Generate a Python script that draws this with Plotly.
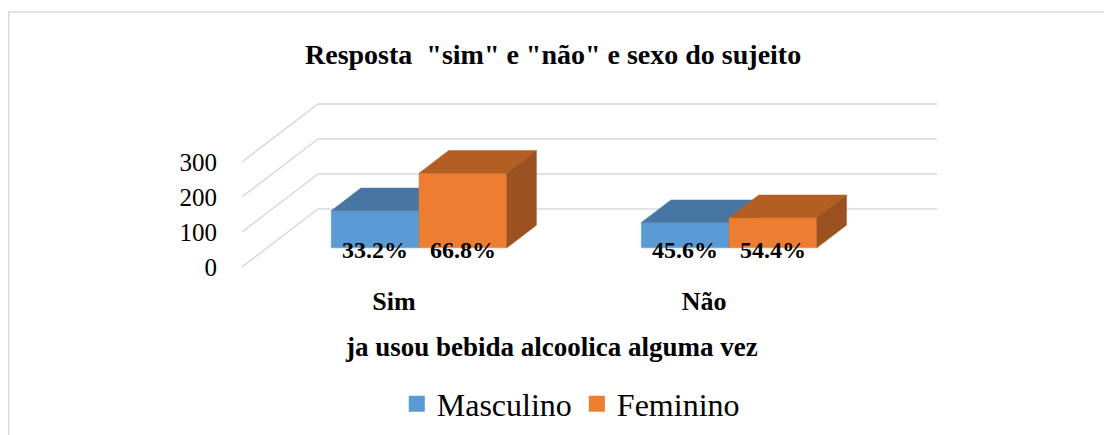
import plotly.graph_objects as go

# dados
categorias = ["Sim", "Não"]
series_nomes = ["Masculino", "Feminino"]
masculino = [106, 72]
feminino = [213, 86]
ticks_y = [0, 100, 200, 300]

titulo = 'Resposta  "sim" e "não" e sexo do sujeito'
titulo_eixo_x = "ja usou bebida alcoolica alguma vez"

# cores: frente, topo, lado
CORES = {
    "Masculino": ("#5B9BD5", "#4676A1", "#3A6590"),
    "Feminino": ("#ED7D31", "#B35E23", "#9C5120"),
}
GRID = "#D9D9D9"
FONTE = "Liberation Serif, Times New Roman, serif"

# geometria pseudo-3D (em unidades dos eixos)
PROF_X = 0.245
PROF_Y = 166
F0, F1 = 0.33, 0.72
LARG = 0.283
X_ESQ, X_DIR = -0.49, 1.752


def poligono(pts, cor):
    xs = [p[0] for p in pts] + [pts[0][0]]
    ys = [p[1] for p in pts] + [pts[0][1]]
    return go.Scatter(
        x=xs, y=ys, mode="lines", fill="toself", fillcolor=cor,
        line=dict(color=cor, width=0.5), hoverinfo="skip", showlegend=False,
    )


def caixa(x0, x1, v, cores):
    ax0, ay0 = F0 * PROF_X, F0 * PROF_Y
    ax1, ay1 = F1 * PROF_X, F1 * PROF_Y
    frente = [(x0 + ax0, ay0), (x1 + ax0, ay0), (x1 + ax0, v + ay0), (x0 + ax0, v + ay0)]
    topo = [(x0 + ax0, v + ay0), (x1 + ax0, v + ay0), (x1 + ax1, v + ay1), (x0 + ax1, v + ay1)]
    lado = [(x1 + ax0, ay0), (x1 + ax1, ay1), (x1 + ax1, v + ay1), (x1 + ax0, v + ay0)]
    return [poligono(frente, cores[0]), poligono(topo, cores[1]), poligono(lado, cores[2])]


fig = go.Figure()

# parede do fundo e lateral
gx, gy = [], []
for v in ticks_y:
    gx += [X_ESQ, X_ESQ + PROF_X, X_DIR, None]
    gy += [v, v + PROF_Y, v + PROF_Y, None]
fig.add_trace(go.Scatter(x=gx, y=gy, mode="lines", line=dict(color=GRID, width=1.5),
                         hoverinfo="skip", showlegend=False))

valores = {"Masculino": masculino, "Feminino": feminino}
anotacoes = []
for i, cat in enumerate(categorias):
    total = masculino[i] + feminino[i]
    for j, nome in enumerate(series_nomes):
        v = valores[nome][i]
        x0 = i - LARG + j * LARG
        x1 = x0 + LARG
        for tr in caixa(x0, x1, v, CORES[nome]):
            fig.add_trace(tr)
        anotacoes.append(dict(
            x=(x0 + x1) / 2 + F0 * PROF_X, y=F0 * PROF_Y, xref="x", yref="y",
            text=f"{100 * v / total:.1f}%", showarrow=False, yshift=-2,
            xanchor="center", yanchor="middle",
            font=dict(family=FONTE, size=24, color="black", weight="bold"),
        ))

# legenda
for nome in series_nomes:
    fig.add_trace(go.Scatter(
        x=[None], y=[None], mode="markers", name=nome,
        marker=dict(symbol="square", size=16, color=CORES[nome][0]),
    ))

anotacoes.append(dict(
    x=0.4456, y=1.27, xref="paper", yref="paper", text=titulo, showarrow=False,
    xanchor="center", yanchor="middle",
    font=dict(family=FONTE, size=28, color="black", weight="bold"),
))
anotacoes.append(dict(
    x=0.4427, y=-0.453, xref="paper", yref="paper", text=titulo_eixo_x, showarrow=False,
    xanchor="center", yanchor="middle",
    font=dict(family=FONTE, size=27, color="black", weight="bold"),
))

fig.update_layout(
    width=1112, height=435,
    margin=dict(l=234, r=180, t=92, b=173),
    plot_bgcolor="white", paper_bgcolor="white",
    font=dict(family=FONTE, color="black"),
    annotations=anotacoes,
    legend=dict(orientation="h", x=0.471, y=-0.788, xanchor="center", yanchor="middle",
                font=dict(size=32), itemclick=False),
    shapes=[dict(type="rect", xref="paper", yref="paper", x0=-0.3342, x1=1.4,
                 y0=-1.2, y1=1.5176, line=dict(color="#D9D9D9", width=1.5),
                 fillcolor="rgba(0,0,0,0)", layer="below")],
)
fig.update_xaxes(
    range=[X_ESQ, 1.761], tickvals=list(range(len(categorias))), ticktext=categorias,
    showgrid=False, zeroline=False, showline=False, ticks="", ticklabelstandoff=13,
    tickfont=dict(size=26, weight="bold"),
)
fig.update_yaxes(
    range=[-8.57, 477.1], tickvals=ticks_y, showgrid=False, zeroline=False,
    showline=False, ticks="", ticklabelstandoff=24, tickfont=dict(size=25),
)

fig.write_html("out.html")
